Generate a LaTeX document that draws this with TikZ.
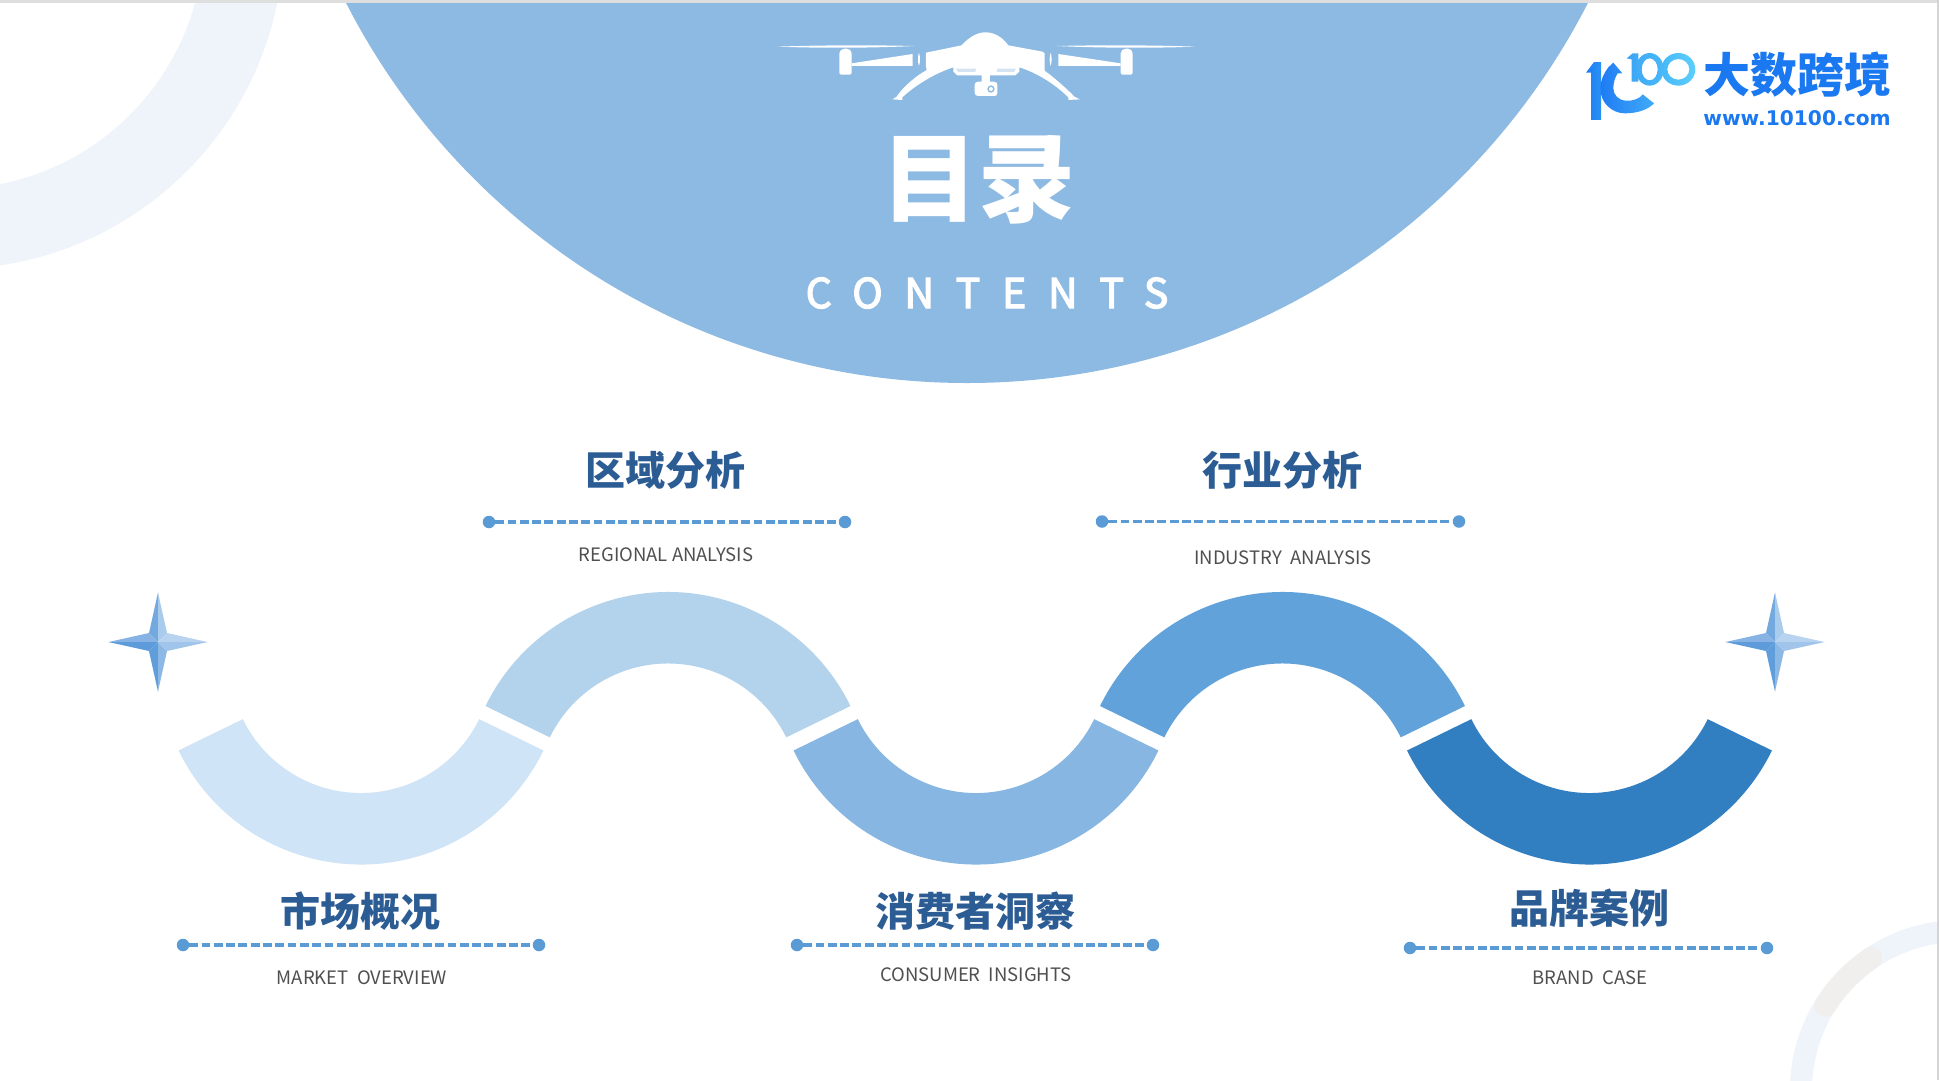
\documentclass[tikz,border=0pt]{standalone}
\usepackage{fontspec}
\setmainfont{Noto Sans CJK SC}
\newfontfamily\logofont{DejaVu Sans}
\definecolor{heading}{HTML}{2C5C94}
\definecolor{subtext}{HTML}{4F4F4F}
\definecolor{dashblue}{HTML}{5B9BD5}
\definecolor{capblue}{HTML}{8DBAE3}
\definecolor{ringpale}{HTML}{EEF4F9}
\definecolor{ringgrey}{HTML}{F0EFED}
\definecolor{edgetop}{HTML}{DEDEDE}
\definecolor{edgeright}{HTML}{D4D4D4}
\definecolor{stripe}{HTML}{D4E4F3}
\definecolor{logoblue}{HTML}{1A78F0}
\definecolor{lgA}{HTML}{1E7CF5}
\definecolor{lgB}{HTML}{2A92F5}
\definecolor{lgC}{HTML}{41ABF7}
\definecolor{lgD}{HTML}{3AA3F6}
\definecolor{lgE}{HTML}{47B8F8}
\definecolor{lgF}{HTML}{5CCFFB}
\definecolor{waveA}{HTML}{CFE4F6}
\definecolor{waveB}{HTML}{B3D2EC}
\definecolor{waveC}{HTML}{86B6E1}
\definecolor{waveD}{HTML}{62A2DA}
\definecolor{waveE}{HTML}{317EC1}
\definecolor{stA}{HTML}{74A9DF}
\definecolor{stB}{HTML}{86B3E3}
\definecolor{stC}{HTML}{A9CBEC}
\definecolor{stD}{HTML}{B7D3EF}
\definecolor{stE}{HTML}{5E9BDA}
\definecolor{stF}{HTML}{5F9DDB}
\definecolor{stG}{HTML}{8CB8E6}
\definecolor{stH}{HTML}{A0C4EA}
\tikzset{
  txt/.style={inner sep=0pt,outer sep=0pt,anchor=center},
  headtext/.style={txt,text=heading,font=\fontsize{40}{48}\selectfont\bfseries},
  subtxt/.style={txt,text=subtext,font=\fontsize{18.5}{22}\selectfont},
  dotend/.style={circle,fill=dashblue,inner sep=0pt,minimum size=12.5pt,outer sep=0pt},
  dashline/.style={draw=dashblue,line width=3.4pt,dash pattern=on 8.8pt off 3.5pt},
  droneshape/.style={fill=white,draw=none},
}
% annular wave segment: cx, cy, start angle, end angle, colour
\newcommand{\wavearc}[5]{%
  \fill[#5] ([shift={(#1,#2)}]#3:203) arc[start angle=#3,end angle=#4,radius=203]
    -- ([shift={(#1,#2)}]#4:131.5) arc[start angle=#4,end angle=#3,radius=131.5] -- cycle;}
% four-point star at cx, cy
\newcommand{\facetstar}[2]{%
  \begin{scope}[shift={(#1,#2)}]
    \coordinate (st) at (0,49.5); \coordinate (sb) at (0,-49.5);
    \coordinate (sl) at (-49.5,0); \coordinate (sr) at (49.5,0);
    \coordinate (so) at (0,0);
    \fill[stA] (so) -- (st) -- (-9,9) -- cycle;
    \fill[stB] (so) -- (sl) -- (-9,9) -- cycle;
    \fill[stC] (so) -- (st) -- (9,9) -- cycle;
    \fill[stD] (so) -- (sr) -- (9,9) -- cycle;
    \fill[stE] (so) -- (sl) -- (-9,-9) -- cycle;
    \fill[stF] (so) -- (sb) -- (-9,-9) -- cycle;
    \fill[stG] (so) -- (sb) -- (9,-9) -- cycle;
    \fill[stH] (so) -- (sr) -- (9,-9) -- cycle;
  \end{scope}}
\begin{document}
\begin{tikzpicture}[x=1pt,y=1pt]
\useasboundingbox (0,0) rectangle (1939,-1080);
\fill[white] (0,0) rectangle (1939,-1080);

% pale corner rings
\begin{scope}
  \clip (0,0) rectangle (1939,-1080);
  \draw[ringpale,line width=80pt] (-49,64) circle[radius=293];
  \draw[ringpale,line width=22pt] (1960,-1090) circle[radius=159];
  \draw[ringgrey,line cap=round,line width=22pt] (1960,-1090) ++(148:159) arc[start angle=148,end angle=124,radius=159];
\end{scope}

% cap disc
\begin{scope}
  \clip (0,0) rectangle (1939,-1080);
  \fill[capblue] (967,314) circle[radius=697];
\end{scope}
\fill[edgetop] (0,0) rectangle (1939,-2.5);
\fill[edgeright] (1937,0) rectangle (1939,-1080);

% drone
\begin{scope}[shift={(740,0)},x=0.3333pt,y=-0.3333pt]
  \fill[droneshape] (112,140) .. controls (250,135) and (400,135) .. (522,138) .. controls (400,144) and (250,145) .. (112,140) -- cycle;
  \fill[droneshape] (950,138) .. controls (1080,135) and (1230,135) .. (1365,140) .. controls (1230,145) and (1080,144) .. (950,138) -- cycle;
  \fill[droneshape,rounded corners=2pt] (298,154) -- (308,146) -- (326,146) -- (335,154) -- (335,224) -- (298,224) -- cycle;
  \fill[droneshape,rounded corners=2pt] (1142,154) -- (1152,146) -- (1170,146) -- (1178,154) -- (1178,224) -- (1142,224) -- cycle;
  \fill[droneshape] (335,190) -- (518,162) -- (518,198) -- (335,198) -- cycle;
  \fill[droneshape] (955,162) -- (1142,190) -- (1142,198) -- (955,198) -- cycle;
  \fill[droneshape] (537,158) .. controls (533,170) and (533,186) .. (537,198) .. controls (541,186) and (541,170) .. (537,158) -- cycle;
  \fill[droneshape] (932,158) .. controls (928,170) and (928,186) .. (932,198) .. controls (936,186) and (936,170) .. (932,158) -- cycle;
  % body and landing gear
  \fill[droneshape] (558,158) -- (665,136) .. controls (690,108) and (715,97) .. (736,97)
     .. controls (760,97) and (785,108) .. (805,136) -- (908,155) -- (914,160) -- (914,212)
     .. controls (945,235) and (985,270) .. (1003,290) -- (1020,298) -- (985,300) -- (985,292)
     .. controls (945,252) and (890,218) .. (838,202) -- (838,215) -- (826,226) -- (750,226) -- (750,245)
     -- (762,245) .. controls (770,245) and (772,250) .. (772,255) -- (772,280) .. controls (772,286) and (768,288) .. (762,288)
     -- (715,288) .. controls (708,288) and (704,285) .. (704,278) -- (704,255) .. controls (704,249) and (708,245) .. (714,245)
     -- (725,245) -- (725,226) -- (652,226) -- (640,215) -- (640,202)
     .. controls (590,218) and (530,252) .. (487,292) -- (487,300) -- (457,298) -- (470,290)
     .. controls (490,260) and (525,230) .. (560,210) -- (558,200) -- cycle;
  \fill[capblue] (753,267) circle[radius=11];
  \fill[white] (753,267) circle[radius=6];
  \fill[stripe] (648,206) -- (708,206) -- (706,216) -- (654,216) -- cycle;
  \fill[stripe] (772,206) -- (828,206) -- (822,216) -- (770,216) -- cycle;
\end{scope}

% title
\node[txt,text=white,font=\fontsize{97}{110}\selectfont\bfseries] (title) at (978,-179.5) {目录};
\node[txt,text=white,font=\fontsize{41}{48}\selectfont\addfontfeature{LetterSpace=53,FakeBold=3}] (contents) at (987,-293) {CONTENTS};

% logo
\begin{scope}[shift={(1575,-40)},x=0.3333pt,y=-0.3333pt]
  \shade[left color=lgA,right color=lgB] (33,98) -- (57,66) -- (78,66) -- (78,240) -- (48,240) -- (48,98) -- cycle;
  \shade[left color=lgA,right color=lgC]
     (100,82) .. controls (86,100) and (76,122) .. (76,145)
     .. controls (76,190) and (112,220) .. (150,220)
     .. controls (190,220) and (222,207) .. (237,190) -- (203,163)
     .. controls (195,176) and (172,184) .. (152,182)
     .. controls (130,180) and (115,165) .. (115,145)
     .. controls (115,128) and (120,112) .. (128,100) -- (142,100) -- (115,68) -- cycle;
  \shade[left color=lgD,right color=lgC] (155,55) -- (173,40) -- (190,40) -- (190,125) -- (170,125) -- (170,58) -- cycle;
  \shade[even odd rule,left color=lgC,right color=lgE] (224,88) ellipse[x radius=42,y radius=49] (224,88) ellipse[x radius=24,y radius=33];
  \shade[even odd rule,left color=lgE,right color=lgF] (310,88) ellipse[x radius=51,y radius=49] (310,88) ellipse[x radius=33,y radius=31];
\end{scope}
\node[txt,text=logoblue,font=\fontsize{47}{54}\selectfont\bfseries] (logotext) at (1797,-75) {大数跨境};
\node[txt,text=logoblue,font=\logofont\fontsize{20.2}{26}\selectfont\bfseries] (logourl) at (1797,-118) {www.10100.com};

% stars
\facetstar{158}{-642}
\facetstar{1775}{-642}

% wave
\wavearc{361}{-661.5}{206}{334}{waveA}
\wavearc{668}{-795}{154}{26}{waveB}
\wavearc{976}{-661.5}{206}{334}{waveC}
\wavearc{1282.5}{-795}{154}{26}{waveD}
\wavearc{1589.5}{-661.5}{206}{334}{waveE}

% sections
\node[headtext] (h1) at (360,-911) {市场概况};
\node[dotend] (a1) at (183,-945) {}; \node[dotend] (b1) at (539,-945) {};
\draw[dashline] (a1) -- (b1);
\node[subtxt] (s1) at (362,-978) {MARKET\ \ OVERVIEW};

\node[headtext] (h2) at (665,-470) {区域分析};
\node[dotend] (a2) at (489,-522) {}; \node[dotend] (b2) at (845,-522) {};
\draw[dashline] (a2) -- (b2);
\node[subtxt] (s2) at (666,-555) {REGIONAL ANALYSIS};

\node[headtext] (h3) at (975,-911) {消费者洞察};
\node[dotend] (a3) at (797,-945) {}; \node[dotend] (b3) at (1153,-945) {};
\draw[dashline] (a3) -- (b3);
\node[subtxt] (s3) at (976,-975) {CONSUMER\ \ INSIGHTS};

\node[headtext] (h4) at (1282.5,-470) {行业分析};
\node[dotend] (a4) at (1102,-521.5) {}; \node[dotend] (b4) at (1459,-521.5) {};
\draw[dashline] (a4) -- (b4);
\node[subtxt] (s4) at (1283,-558) {INDUSTRY\ \ ANALYSIS};

\node[headtext] (h5) at (1589,-908) {品牌案例};
\node[dotend] (a5) at (1410,-948) {}; \node[dotend] (b5) at (1767,-948) {};
\draw[dashline] (a5) -- (b5);
\node[subtxt] (s5) at (1590,-978) {BRAND\ \ CASE};
\end{tikzpicture}
\end{document}
